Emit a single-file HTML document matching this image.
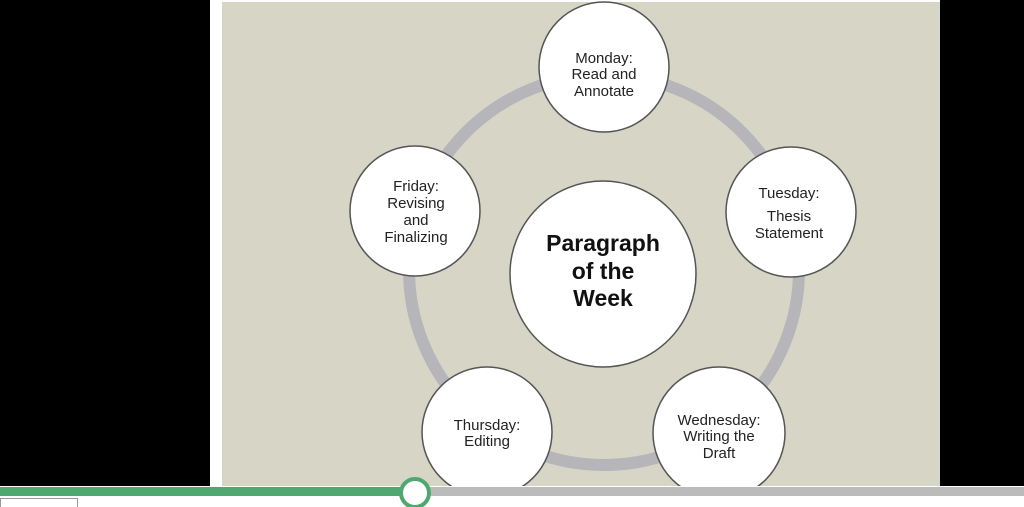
<!DOCTYPE html>
<html><head><style>
html,body{margin:0;padding:0;width:1024px;height:507px;overflow:hidden;background:#fff;}
</style></head><body>
<svg width="1024" height="507" xmlns="http://www.w3.org/2000/svg" style="display:block">
<rect x="0" y="0" width="1024" height="507" fill="#fff"/>
<rect x="0" y="0" width="210" height="487" fill="#000"/>
<rect x="940" y="0" width="84" height="487" fill="#000"/>
<rect x="222" y="2" width="718" height="485" fill="#d6d5c6"/>
<circle cx="604" cy="270" r="195" fill="none" stroke="#b5b5ba" stroke-width="12"/>
<g fill="#fff" stroke="#555" stroke-width="1.5">
<circle cx="603" cy="274" r="93"/>
<circle cx="604" cy="67" r="65"/>
<circle cx="791" cy="212" r="65"/>
<circle cx="719" cy="433" r="66"/>
<circle cx="487" cy="432" r="65"/>
<circle cx="415" cy="211" r="65"/>
</g>
<g font-family="Liberation Sans, sans-serif" text-anchor="middle" fill="#222">
<g font-size="23" font-weight="bold" fill="#111">
<text x="603" y="251">Paragraph</text>
<text x="603" y="279">of the</text>
<text x="603" y="306">Week</text>
</g>
<g font-size="15">
<text x="604" y="63">Monday:</text>
<text x="604" y="79">Read and</text>
<text x="604" y="96">Annotate</text>
<text x="789" y="198">Tuesday:</text>
<text x="789" y="221">Thesis</text>
<text x="789" y="238">Statement</text>
<text x="719" y="425">Wednesday:</text>
<text x="719" y="441">Writing the</text>
<text x="719" y="458">Draft</text>
<text x="487" y="430">Thursday:</text>
<text x="487" y="446">Editing</text>
<text x="416" y="191">Friday:</text>
<text x="416" y="208">Revising</text>
<text x="416" y="225">and</text>
<text x="416" y="242">Finalizing</text>
</g>
</g>
<rect x="0" y="486" width="1024" height="21" fill="#fff"/>
<rect x="0" y="487" width="415" height="9" fill="#4fa870"/>
<rect x="415" y="487" width="609" height="9" fill="#bbbbbb"/>
<circle cx="415" cy="493" r="14" fill="#fff" stroke="#4fa870" stroke-width="4"/>
<rect x="0.5" y="498.5" width="77" height="12" fill="none" stroke="#333" stroke-dasharray="1,1"/>
</svg>
</body></html>
